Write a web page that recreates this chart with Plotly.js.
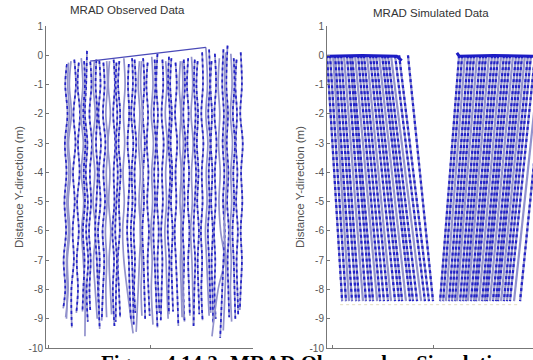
<!DOCTYPE html>
<html><head><meta charset="utf-8">
<script src="https://cdn.plot.ly/plotly-3.0.1.min.js"></script>
<style>html,body{margin:0;padding:0;background:#fff;overflow:hidden}#chart{width:533px;height:360px}</style>
</head><body><div id="chart"></div>
<script>
// ---- texts ----
const leftTitle = "MRAD Observed Data";
const rightTitle = "MRAD Simulated Data";
const yTitle = "Distance Y-direction (m)";
const caption = "Figure 4.14.2: MRAD Observed vs Simulation";
const yTickVals = [1,0,-1,-2,-3,-4,-5,-6,-7,-8,-9,-10];
const yTickText = ["1","0","-1","-2","-3","-4","-5","-6","-7","-8","-9","-10"];
const xTickVals = [0,5,10];

// ---- observed trajectories: x at [top, -1..-8, bottom] ----
const obsLevels = [-1,-2,-3,-4,-5,-6,-7,-8];
const obsTopY = [-0.30,-0.20,-0.15,-0.25,-0.10,0.15,-0.22,-0.20,-0.18,-0.25,
                 -0.20,-0.15,-0.20,-0.10,-0.30,-0.15,-0.20,-0.10,-0.25,-0.05,
                 0.05,-0.15,-0.20,-0.10,-0.25,-0.20,-0.15,-0.10,-0.05,-0.20,
                 0.10,0.27,-0.20,0.05,-0.10,0.20,0.33,0.05,-0.15,0.10,
                 -0.25,-0.20,-0.15,-0.20,-0.25,-0.10,-0.20,-0.15,-0.05,-0.20,
                 -0.15,0.20,0.10,-0.10];
const obsBotY = [-8.65,-8.95,-9.30,-8.80,-9.60,-9.10,-8.70,-9.00,-8.90,-9.05,
                 -8.85,-9.25,-8.95,-9.50,-9.00,-8.80,-9.45,-9.00,-8.90,-9.20,
                 -8.80,-9.05,-9.00,-8.75,-9.25,-8.95,-9.10,-8.90,-9.20,-8.85,
                 -9.05,-8.90,-9.15,-9.00,-9.60,-9.65,-8.95,-9.10,-8.85,-8.70,
                 -9.00,-8.75,-9.35,-8.95,-9.10,-9.20,-8.90,-9.30,-8.85,-9.00,
                 -9.25,-8.80,-9.40,-9.00];
const obsX = [
 [0.92,0.84,0.95,0.82,0.90,0.80,0.88,0.76,0.84,0.74],
 [1.12,1.04,1.14,1.00,1.10,0.98,1.06,0.94,0.98,0.86],
 [1.28,1.36,1.24,1.34,1.22,1.30,1.20,1.26,1.14,1.16],
 [1.50,1.44,1.56,1.46,1.54,1.42,1.50,1.40,1.46,1.38],
 [1.62,1.70,1.60,1.72,1.62,1.74,1.64,1.72,1.80,1.80],
 [1.90,1.86,1.80,1.92,1.84,1.94,1.86,1.96,1.88,1.94],
 [2.06,2.12,2.02,2.14,2.04,2.10,2.00,2.08,2.02,2.06],
 [2.26,2.20,2.30,2.18,2.28,2.20,2.32,2.22,2.30,2.40],
 [2.50,2.56,2.46,2.58,2.48,2.56,2.44,2.52,2.46,2.50],
 [2.70,2.76,2.68,2.80,2.70,2.78,2.66,2.74,2.68,2.62],
 [3.00,2.94,3.04,2.92,3.02,2.96,3.06,2.98,3.04,3.10],
 [3.20,3.26,3.18,3.28,3.20,3.24,3.14,3.22,3.16,3.24],
 [3.48,3.42,3.52,3.44,3.54,3.46,3.50,3.40,3.46,3.52],
 [3.70,3.76,3.68,3.74,3.66,3.72,3.64,3.70,3.86,4.15],
 [3.94,3.90,3.96,3.88,3.98,3.92,3.86,3.94,3.98,4.04],
 [4.22,4.28,4.20,4.30,4.22,4.26,4.18,4.24,4.20,4.26],
 [4.46,4.40,4.48,4.42,4.50,4.44,4.52,4.46,4.40,4.30],
 [4.64,4.70,4.62,4.72,4.64,4.68,4.60,4.66,4.70,4.74],
 [4.86,4.80,4.88,4.82,4.90,4.84,4.92,4.86,4.90,4.96],
 [5.06,5.12,5.04,5.14,5.06,5.10,5.02,5.08,5.04,5.12],
 [5.34,5.28,5.36,5.30,5.38,5.32,5.40,5.34,5.38,5.44],
 [5.58,5.62,5.54,5.64,5.56,5.60,5.52,5.58,5.54,5.50],
 [5.74,5.80,5.72,5.82,5.74,5.78,5.70,5.76,5.80,5.86],
 [6.02,5.96,6.04,5.98,6.06,6.00,6.08,6.02,6.06,6.10],
 [6.22,6.28,6.20,6.30,6.22,6.26,6.18,6.24,6.30,6.36],
 [6.46,6.40,6.48,6.42,6.50,6.44,6.52,6.46,6.50,6.54],
 [6.62,6.68,6.60,6.70,6.62,6.66,6.58,6.64,6.60,6.66],
 [6.84,6.78,6.86,6.80,6.88,6.82,6.90,6.84,6.88,6.92],
 [7.00,7.06,6.98,7.08,7.00,7.04,6.96,7.02,7.06,7.10],
 [7.30,7.24,7.32,7.26,7.34,7.28,7.36,7.30,7.34,7.38],
 [7.52,7.56,7.48,7.58,7.50,7.54,7.46,7.52,7.48,7.54],
 [7.70,7.78,7.70,7.80,7.72,7.76,7.68,7.74,7.80,7.86],
 [7.98,7.92,8.00,7.94,8.02,7.96,8.04,7.98,8.02,8.06],
 [8.14,8.20,8.12,8.22,8.14,8.18,8.10,8.16,8.12,8.18],
 [8.36,8.30,8.38,8.32,8.40,8.34,8.42,8.60,8.30,8.00],
 [8.56,8.50,8.58,8.52,8.60,8.54,8.62,8.56,8.50,8.40],
 [8.76,8.70,8.78,8.72,8.80,8.74,8.82,8.76,8.80,8.84],
 [8.92,8.98,8.90,9.00,8.92,8.96,8.88,8.94,8.90,8.96],
 [9.20,9.14,9.22,9.16,9.24,9.18,9.26,9.20,9.24,9.28],
 [9.40,9.46,9.38,9.50,9.42,9.48,9.40,9.46,9.40,9.36],
 [1.00,0.96,1.04,0.94,1.02,0.92,1.00,0.90,0.94,0.90],
 [1.76,1.80,1.72,1.82,1.74,1.80,1.70,1.78,1.72,1.68],
 [2.36,2.32,2.40,2.34,2.42,2.36,2.30,2.38,2.44,2.52],
 [2.86,2.90,2.82,2.92,2.84,2.88,2.80,2.86,2.82,2.86],
 [3.34,3.30,3.38,3.32,3.40,3.34,3.28,3.36,3.32,3.30],
 [4.10,4.14,4.06,4.16,4.08,4.12,4.04,4.10,4.14,4.18],
 [4.56,4.52,4.60,4.54,4.62,4.56,4.50,4.58,4.54,4.58],
 [5.20,5.24,5.16,5.26,5.18,5.22,5.14,5.20,5.26,5.34],
 [5.90,5.86,5.94,5.88,5.96,5.90,5.84,5.92,5.88,5.90],
 [6.54,6.58,6.50,6.60,6.52,6.56,6.48,6.54,6.58,6.62],
 [7.16,7.12,7.20,7.14,7.22,7.16,7.10,7.18,7.14,7.10],
 [7.86,7.90,7.82,7.92,7.84,7.88,7.80,7.86,7.90,7.94],
 [8.66,8.62,8.70,8.64,8.72,8.66,8.60,8.68,8.64,8.55],
 [9.06,9.10,9.02,9.12,9.04,9.08,9.00,9.06,9.10,9.14]
];
const obsConnX = [2.05, 7.70];
const obsConnY = [-0.20, 0.27];

// ---- simulated trajectories: straight from top to bottom ----
const simTopY = 0.0;
const simBotY = -8.4;
const simLeftTopX  = [-0.25,-0.10,0.05,0.15,0.30,0.45,0.59,0.74,0.89,0.99,1.14,1.29,1.44,1.58,1.73,1.88,2.03,2.18,2.33,2.48,2.62,2.77,2.92,3.12,3.32,3.76];
const simLeftBotX  = [0.50,0.69,0.84,0.99,1.19,1.34,1.53,1.68,1.88,2.03,2.23,2.38,2.57,2.77,2.92,3.12,3.32,3.47,3.66,3.86,4.01,4.21,4.41,4.60,4.80,5.00];
const simRightTopX = [6.29,6.44,6.58,6.73,6.88,7.03,7.18,7.33,7.48,7.62,7.77,7.92,8.07,8.22,8.37,8.51,8.66,8.81,8.96,9.11,9.26,9.41,9.55,9.70,9.85,10.05,10.30,10.54];
const simRightBotX = [5.35,5.50,5.64,5.79,5.94,6.09,6.19,6.34,6.49,6.63,6.73,6.88,7.03,7.13,7.28,7.43,7.57,7.67,7.82,7.97,8.12,8.22,8.37,8.51,8.66,8.81,9.01,9.31];
const simBandLX = [-0.25, 1.50, 3.20, 3.45];
const simBandLY = [-0.03, -0.01, -0.03, -0.18];
const simBandRX = [6.18, 6.30, 8.00, 10.0];
const simBandRY = [0.08, -0.03, -0.01, -0.03];
const simBaseX = [0.40, 9.30];
const simBaseY = [-8.52, -8.52];

const LIGHT = '#9292cc', DARK = '#2222c8';
const traces = [];
function addLine(x, y, xa, ya, dark, shape, w) {
  traces.push({x, y, xaxis: xa, yaxis: ya, type: 'scatter', mode: 'lines', hoverinfo: 'skip',
    line: {color: LIGHT, width: w, shape: shape || 'linear', smoothing: 1}});
  if (dark) traces.push({x, y, xaxis: xa, yaxis: ya, type: 'scatter', mode: 'lines', hoverinfo: 'skip',
    line: {color: DARK, width: w, dash: 'dot', shape: shape || 'linear', smoothing: 1}});
}
obsX.forEach((xs, i) => {
  const ys = [obsTopY[i]].concat(obsLevels, [obsBotY[i]]);
  addLine(xs, ys, 'x', 'y', i % 3 !== 1, 'spline', 1.7);
});
traces.push({x: obsConnX, y: obsConnY, xaxis: 'x', yaxis: 'y', type: 'scatter', mode: 'lines',
  hoverinfo: 'skip', line: {color: '#4a4ab8', width: 1.3}});

traces.push({x: simBaseX, y: simBaseY, xaxis: 'x2', yaxis: 'y2', type: 'scatter', mode: 'lines',
  hoverinfo: 'skip', line: {color: '#e2dcc0', width: 1, dash: 'dot'}});
simLeftTopX.forEach((t, i) => addLine([t, simLeftBotX[i]], [simTopY, simBotY], 'x2', 'y2', i % 4 !== 2, 'linear', 2.2));
simRightTopX.forEach((t, i) => addLine([t, simRightBotX[i]], [simTopY, simBotY], 'x2', 'y2', i % 4 !== 2, 'linear', 2.2));
traces.push({x: simBandLX, y: simBandLY, xaxis: 'x2', yaxis: 'y2', type: 'scatter', mode: 'lines',
  hoverinfo: 'skip', line: {color: '#1c1cc4', width: 3}});
traces.push({x: simBandRX, y: simBandRY, xaxis: 'x2', yaxis: 'y2', type: 'scatter', mode: 'lines',
  hoverinfo: 'skip', line: {color: '#1c1cc4', width: 3}});

const axFont = {family: 'Arial, Liberation Sans, sans-serif', size: 10, color: '#555'};
function yAxis(anchor) {
  return {anchor, range: [-10, 1], tickvals: yTickVals, ticktext: yTickText, ticks: 'inside',
    ticklen: 3, tickcolor: '#777', showline: true, linecolor: '#777', linewidth: 1,
    showgrid: false, zeroline: false, tickfont: axFont, automargin: false,
    title: {text: yTitle, font: {family: 'Arial, Liberation Sans, sans-serif', size: 11.5, color: '#555'}, standoff: 2}};
}
function xAxis(anchor, domain, range) {
  return {anchor, domain, range, tickvals: xTickVals, ticks: 'inside', ticklen: 3, tickcolor: '#777',
    showline: true, linecolor: '#777', linewidth: 1, showgrid: false, zeroline: false,
    showticklabels: false, automargin: false};
}
const layout = {
  width: 533, height: 360, showlegend: false,
  paper_bgcolor: '#fff', plot_bgcolor: '#fff',
  margin: {l: 46, r: 0, t: 26, b: 12},
  xaxis: xAxis('y', [0, 0.425], [-0.1, 10]),
  yaxis: yAxis('x'),
  xaxis2: xAxis('y2', [0.577, 1], [-0.25, 9.95]),
  yaxis2: yAxis('x2'),
  annotations: [
    {text: leftTitle, xref: 'paper', yref: 'paper', x: (127-46)/487, y: 1 + (26-10)/322, xanchor: 'center', yanchor: 'middle',
     showarrow: false, font: {family: 'Arial, Liberation Sans, sans-serif', size: 11.5, color: '#333'}},
    {text: rightTitle, xref: 'paper', yref: 'paper', x: (431-46)/487, y: 1 + (26-13)/322, xanchor: 'center', yanchor: 'middle',
     showarrow: false, font: {family: 'Arial, Liberation Sans, sans-serif', size: 11.5, color: '#333'}},
    {text: '<b>' + caption + '</b>', xref: 'paper', yref: 'paper', x: (100-46)/487, y: -0.006, xanchor: 'left', yanchor: 'top',
     showarrow: false, borderpad: 0,
     font: {family: 'Liberation Serif, Times New Roman, serif', size: 21, color: '#000'}}
  ]
};
Plotly.newPlot('chart', traces, layout, {staticPlot: true, displayModeBar: false});
</script></body></html>
